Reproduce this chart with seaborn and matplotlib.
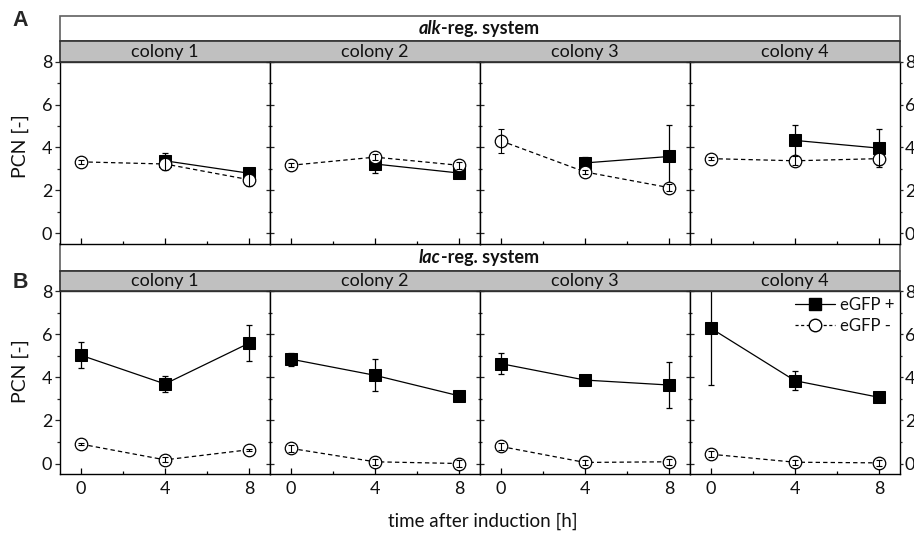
import numpy as np
import pandas as pd
import matplotlib
matplotlib.use("Agg")
import matplotlib.pyplot as plt
import seaborn as sns
from matplotlib.patches import Rectangle
from matplotlib.lines import Line2D
from matplotlib.ticker import FixedLocator, MultipleLocator

sns.set_theme(style="white")
plt.rcParams["font.family"] = ["Lato", "DejaVu Sans"]

nan = np.nan
times = [0, 4, 8]
colonies = ["colony 1", "colony 2", "colony 3", "colony 4"]
systems = ["alk", "lac"]
groups = ["eGFP +", "eGFP -"]

alk_pos_mean = [[nan, 3.38, 2.80], [nan, 3.23, 2.81], [nan, 3.28, 3.58], [nan, 4.33, 3.97]]
alk_pos_err = [[nan, 0.35, 0.10], [nan, 0.40, 0.08], [nan, 0.28, 1.45], [nan, 0.73, 0.88]]
alk_neg_mean = [[3.33, 3.23, 2.50], [3.17, 3.55, 3.17], [4.31, 2.86, 2.13], [3.48, 3.38, 3.48]]
alk_neg_err = [[0.08, 0.30, 0.30], [0.10, 0.15, 0.15], [0.55, 0.10, 0.15], [0.08, 0.20, 0.30]]
lac_pos_mean = [[5.02, 3.69, 5.58], [4.84, 4.09, 3.14], [4.63, 3.87, 3.64], [6.27, 3.84, 3.07]]
lac_pos_err = [[0.60, 0.38, 0.83], [0.30, 0.75, 0.08], [0.50, 0.08, 1.05], [2.63, 0.45, 0.10]]
lac_neg_mean = [[0.90, 0.17, 0.64], [0.70, 0.08, 0.00], [0.79, 0.05, 0.08], [0.43, 0.06, 0.03]]
lac_neg_err = [[0.05, 0.12, 0.05], [0.15, 0.15, 0.15], [0.15, 0.12, 0.15], [0.15, 0.12, 0.15]]

source = {
    ("alk", "eGFP +"): (alk_pos_mean, alk_pos_err),
    ("alk", "eGFP -"): (alk_neg_mean, alk_neg_err),
    ("lac", "eGFP +"): (lac_pos_mean, lac_pos_err),
    ("lac", "eGFP -"): (lac_neg_mean, lac_neg_err),
}
rows = []
for (sysname, grp), (means, errs) in source.items():
    for ci, col in enumerate(colonies):
        for ti, t in enumerate(times):
            rows.append(dict(system=sysname, colony=col, group=grp, time=t,
                             pcn=means[ci][ti], err=errs[ci][ti]))
df = pd.DataFrame(rows)

W, H = 914, 533
fig = plt.figure(figsize=(W / 100, H / 100), dpi=100)

def fx(x):
    return x / W

def fy(y):
    return 1 - y / H

panel_left = [60, 270, 480, 690]
panel_w = 210
sections = {
    # system: (frame top, title strip bottom, gray strip bottom, plot bottom)
    "alk": (16, 41, 61.7, 244),
    "lac": (244.3, 270.7, 291, 474.3),
}
strip_grey = "#c0c0c0"
frame_col = "#606060"
line_col = "#303030"
txt_col = "#111111"
FS = 13

for sysname in systems:
    top, tb, gb, pb = sections[sysname]
    fig.add_artist(Rectangle((fx(60), fy(tb)), fx(900) - fx(60), fy(top) - fy(tb),
                             transform=fig.transFigure, facecolor="white",
                             edgecolor=frame_col, lw=1.2, zorder=0))
    fig.add_artist(Rectangle((fx(60), fy(gb)), fx(900) - fx(60), fy(tb) - fy(gb),
                             transform=fig.transFigure, facecolor=strip_grey,
                             edgecolor=line_col, lw=1.2, zorder=0))

    for ci, col in enumerate(colonies):
        left = panel_left[ci]
        ax = fig.add_axes([fx(left), fy(pb), panel_w / W, (pb - gb) / H])
        ax.set_facecolor("white")
        sub = df[(df.system == sysname) & (df.colony == col)]
        pos = sub[sub.group == "eGFP +"]
        neg = sub[sub.group == "eGFP -"]

        ax.errorbar(pos.time, pos.pcn, yerr=pos.err, fmt="none", ecolor="black",
                    elinewidth=0.9, capsize=2.5, capthick=0.9, zorder=2)
        sns.lineplot(data=pos, x="time", y="pcn", ax=ax, color="black",
                     marker="s", markersize=8.5, markeredgecolor="black",
                     markerfacecolor="black", linewidth=0.9, errorbar=None,
                     legend=False, zorder=3)
        sns.lineplot(data=neg, x="time", y="pcn", ax=ax, color="black",
                     marker="o", markersize=9, markeredgecolor="black",
                     markerfacecolor="white", markeredgewidth=0.9,
                     linewidth=0.9, linestyle=(0, (3.5, 2.5)), errorbar=None,
                     legend=False, zorder=4)
        ax.errorbar(neg.time, neg.pcn, yerr=neg.err, fmt="none", ecolor="black",
                    elinewidth=0.8, capsize=2.0, capthick=0.8, zorder=5)

        ax.set_xlim(-1, 9)
        ax.set_ylim(-0.5, 8)
        ax.xaxis.set_major_locator(FixedLocator(times))
        ax.xaxis.set_minor_locator(FixedLocator([2, 6]))
        ax.yaxis.set_major_locator(MultipleLocator(2))
        ax.yaxis.set_minor_locator(MultipleLocator(1))
        ax.set_xlabel("")
        ax.set_ylabel("")
        for s in ax.spines.values():
            s.set_color("black")
            s.set_linewidth(1.0)
            s.set_visible(True)
        ax.spines["top"].set_color(line_col)

        ax.tick_params(axis="x", which="both", direction="in", bottom=True,
                       top=False, colors="black", labelsize=FS, pad=5,
                       labelbottom=(sysname == "lac"), labelcolor=txt_col)
        ax.tick_params(axis="x", which="major", length=4, width=0.9)
        ax.tick_params(axis="x", which="minor", length=2.5, width=0.9)

        if ci == 0:
            ax.tick_params(axis="y", which="both", direction="out", left=True,
                           right=False, labelleft=True, labelsize=FS, pad=2,
                           labelcolor=txt_col)
            ax.tick_params(axis="y", which="major", length=3.5, width=0.9)
            ax.tick_params(axis="y", which="minor", length=2, width=0.9)
        else:
            ax.tick_params(axis="y", which="both", direction="inout", left=True,
                           right=False, labelleft=False)
            ax.tick_params(axis="y", which="major", length=5.5, width=0.9)
            ax.tick_params(axis="y", which="minor", length=3.5, width=0.9)
        if ci == 3:
            tw = ax.twinx()
            tw.set_ylim(-0.5, 8)
            tw.yaxis.set_major_locator(MultipleLocator(2))
            tw.yaxis.set_minor_locator(MultipleLocator(1))
            for s in tw.spines.values():
                s.set_visible(False)
            tw.tick_params(axis="y", which="both", direction="out", right=True,
                           labelright=True, labelsize=FS, pad=1,
                           labelcolor=txt_col)
            tw.tick_params(axis="y", which="major", length=2.5, width=0.9)
            tw.tick_params(axis="y", which="minor", length=1.5, width=0.9)
            tw.grid(False)
            if sysname == "lac":
                handles = [
                    Line2D([], [], color="black", marker="s", markersize=8.5,
                           lw=0.9),
                    Line2D([], [], color="black", marker="o", markersize=9,
                           markerfacecolor="white", lw=0.9,
                           linestyle=(0, (2.5, 2))),
                ]
                ax.legend(handles, groups, loc="upper right", frameon=False,
                          fontsize=12, handlelength=2.4, handletextpad=0.3,
                          labelspacing=0.3, borderaxespad=0.15,
                          borderpad=0.2, labelcolor=txt_col)
        ax.grid(False)

        fig.text(fx(left + panel_w / 2), fy((tb + gb) / 2 + 0.5), col,
                 ha="center", va="center", fontsize=FS, color=txt_col)

fig.canvas.draw()
renderer = fig.canvas.get_renderer()
for sysname in systems:
    top, tb, gb, pb = sections[sysname]
    yc = fy((top + tb) / 2)
    t1 = fig.text(0, yc, sysname, fontweight="bold", fontstyle="italic",
                  fontsize=FS, va="center", ha="left", color=txt_col)
    t2 = fig.text(0, yc, "-reg. system", fontweight="bold", fontsize=FS,
                  va="center", ha="left", color=txt_col)
    w1 = t1.get_window_extent(renderer).width
    w2 = t2.get_window_extent(renderer).width
    x0 = 479 - (w1 + w2) / 2
    t1.set_position((fx(x0), yc))
    t2.set_position((fx(x0 + w1), yc))

fig.text(fx(20), fy(21), "A", fontsize=15.5, fontweight="bold",
         family=["Liberation Sans", "DejaVu Sans"], ha="center", va="center")
fig.text(fx(20), fy(282.5), "B", fontsize=15.5, fontweight="bold",
         family=["Liberation Sans", "DejaVu Sans"], ha="center", va="center")
fig.text(fx(20.5), fy(146), "PCN [-]", rotation=90, fontsize=14,
         ha="center", va="center", color=txt_col)
fig.text(fx(20.5), fy(371), "PCN [-]", rotation=90, fontsize=14,
         ha="center", va="center", color=txt_col)
fig.text(fx(483), fy(521), "time after induction [h]", fontsize=13.5,
         ha="center", va="center", color=txt_col)

fig.savefig("out.png", dpi=100)
